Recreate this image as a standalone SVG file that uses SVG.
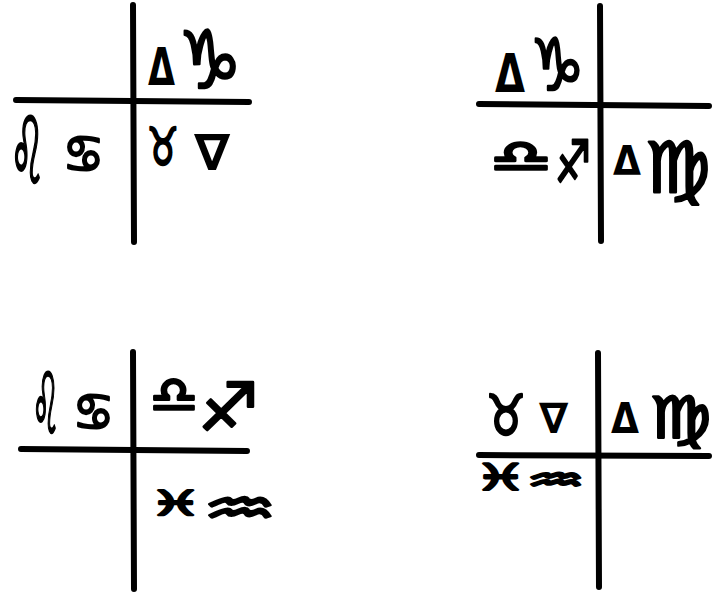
<svg xmlns="http://www.w3.org/2000/svg" width="712" height="595" viewBox="0 0 712 595">
<style>
.ln{stroke:#000;stroke-width:6;stroke-linecap:round;fill:none}
text{font-family:"DejaVu Sans","Noto Sans",sans-serif;fill:#000}
.t{font-weight:bold;stroke:none}
.z{font-weight:normal;stroke:#000;stroke-width:2.5;stroke-linejoin:round}
</style>
<rect width="712" height="595" fill="#fff"/>
<g id="chart1">
<line class="ln" x1="133" y1="5" x2="134" y2="242"/>
<line class="ln" x1="16" y1="100" x2="249" y2="102"/>
<text class="t" transform="translate(148,85) scale(0.671,1)" font-size="52">Δ</text>
<text class="z" transform="translate(178,88) scale(0.886,1)" font-size="80">♑</text>
<text class="z" transform="translate(10,183) scale(0.422,1)" font-size="92">♌</text>
<text class="z" transform="translate(63,172) scale(0.879,1)" font-size="52">♋</text>
<text class="z" transform="translate(147,165) scale(0.681,1)" font-size="52">♉</text>
<text class="t" transform="translate(194,170) scale(1.04,1)" font-size="50">∇</text>
</g>
<g id="chart2">
<line class="ln" x1="600" y1="6" x2="601" y2="241"/>
<line class="ln" x1="479" y1="104" x2="709" y2="106"/>
<text class="t" transform="translate(495,92) scale(0.718,1)" font-size="54">Δ</text>
<text class="z" transform="translate(530,90) scale(0.841,1)" font-size="72">♑</text>
<text class="z" transform="translate(490,172) scale(1.523,1)" font-size="45">♎</text>
<text class="z" transform="translate(555,182) scale(0.69,1)" font-size="58">♐</text>
<text class="t" transform="translate(613,175) scale(0.904,1)" font-size="40">Δ</text>
<text class="z" transform="translate(645,192) scale(1.045,1)" font-size="70">♍</text>
</g>
<g id="chart3">
<line class="ln" x1="133" y1="352" x2="134" y2="589"/>
<line class="ln" x1="21" y1="449" x2="247" y2="451"/>
<text class="z" transform="translate(32,433) scale(0.367,1)" font-size="84">♌</text>
<text class="z" transform="translate(73,430) scale(0.879,1)" font-size="52">♋</text>
<text class="z" transform="translate(150,412) scale(1.074,1)" font-size="50">♎</text>
<text class="z" transform="translate(198,430) scale(1.022,1)" font-size="66">♐</text>
<text class="z" transform="translate(150,515) scale(1.681,1)" font-size="34">♓</text>
<text class="z" transform="translate(203,525) scale(1.714,1)" font-size="48">♒</text>
</g>
<g id="chart4">
<line class="ln" x1="598" y1="353" x2="599" y2="587"/>
<line class="ln" x1="479" y1="455" x2="709" y2="456"/>
<text class="z" transform="translate(486,435) scale(0.796,1)" font-size="56">♉</text>
<text class="t" transform="translate(539,433) scale(1.0,1)" font-size="42">∇</text>
<text class="t" transform="translate(611,433) scale(0.861,1)" font-size="42">Δ</text>
<text class="z" transform="translate(650,438) scale(1.182,1)" font-size="58">♍</text>
<text class="z" transform="translate(475,490) scale(1.587,1)" font-size="36">♓</text>
<text class="z" transform="translate(527,490) scale(2.133,1)" font-size="30">♒</text>
</g>
</svg>
